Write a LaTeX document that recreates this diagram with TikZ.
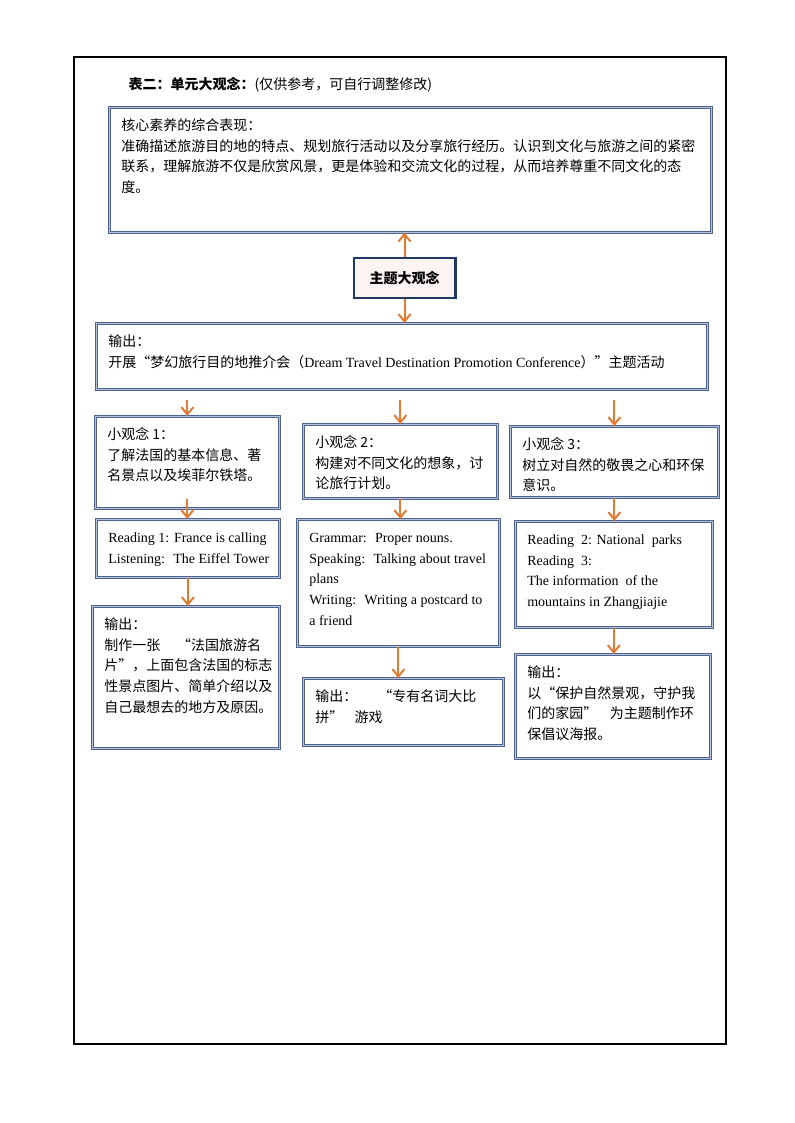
\documentclass[tikz,border=0pt]{standalone}
\usepackage{fontspec}
\setmainfont{Liberation Serif}
\newfontfamily\cjk{Noto Sans CJK SC}
\usetikzlibrary{arrows.meta}

\definecolor{frameblue}{RGB}{79,98,140}
\definecolor{bandblue}{RGB}{180,194,220}
\definecolor{navy}{RGB}{31,56,100}
\definecolor{blush}{RGB}{252,243,243}
\definecolor{arroworange}{RGB}{226,122,52}

\newdimen\pxu \pxu=0.75pt
\newcommand\bodyfont{\fontsize{10.5pt}{15.5pt}\selectfont}
% width, height (px), lines of the box
\newcommand\boxlines[3]{\parbox[t][#2\pxu][t]{#1\pxu}{\vspace{6.5pt}\hspace*{9pt}%
  \begin{tabular}[t]{@{}l@{}}#3\end{tabular}}}

\begin{document}
\begin{tikzpicture}[x=0.75pt, y=-0.75pt,
  box/.style = {draw=frameblue, double=bandblue, double distance=1.2pt,
    line width=0.5pt, inner sep=0pt, anchor=north west, font=\bodyfont\cjk},
  latin/.style = {box, font=\bodyfont},
  theme/.style = {draw=navy, fill=blush, line width=2pt, minimum width=76pt,
    minimum height=30pt, font=\bodyfont\cjk\bfseries},
  edge/.style = {-{Straight Barb[length=5.5pt, width=9pt]}, line width=1.5pt,
    draw=arroworange}]

  \useasboundingbox (0,0) rectangle (794,1123);
  \draw[line width=0.8pt] (74,57) rectangle (726,1044);

  \node[anchor=west, font=\bodyfont\cjk] (title) at (124,85)
    {{\bfseries 表二：单元大观念：}(仅供参考，可自行调整修改)};

  \node[box] (core) at (109,107) {\boxlines{602}{125}{核心素养的综合表现：\\
    准确描述旅游目的地的特点、规划旅行活动以及分享旅行经历。认识到文化与旅游之间的紧密\\
    联系，理解旅游不仅是欣赏风景，更是体验和交流文化的过程，从而培养尊重不同文化的态\\
    度。}};
  \node[theme] (theme) at (404.5,278) {主题大观念};
  \node[box] (act) at (96,323) {\boxlines{611}{66}{输出：\\
    开展“梦幻旅行目的地推介会（{\rmfamily Dream Travel Destination Promotion Conference}）”主题活动}};

  % column 1
  \node[box] (ideaA) at (95,416) {\boxlines{184}{92}{小观念 1：\\
    了解法国的基本信息、著\\ 名景点以及埃菲尔铁塔。}};
  \node[latin] (lessonA) at (96,519) {\boxlines{183}{58}{Reading 1: France is calling\\
    Listening: \ The Eiffel Tower}};
  \node[box] (taskA) at (92,606) {\boxlines{187}{142}{输出：\\
    制作一张\hspace{1.2em}“法国旅游名\\ 片”，上面包含法国的标志\\
    性景点图片、简单介绍以及\\ 自己最想去的地方及原因。}};

  % column 2
  \node[box] (ideaB) at (303,424) {\boxlines{194}{74}{小观念 2：\\
    构建对不同文化的想象，讨\\ 论旅行计划。}};
  \node[latin] (lessonB) at (297,519) {\boxlines{202}{127}{Grammar: \ Proper nouns.\\
    Speaking: \ Talking about travel\\ plans\\
    Writing: \ Writing a postcard to\\ a friend}};
  \node[box] (taskB) at (303,678) {\boxlines{200}{67}{输出：\hspace{1.5em}“专有名词大比\\
    拼”\hspace{0.8em}游戏}};

  % column 3
  \node[box] (ideaC) at (510,426) {\boxlines{208}{71}{小观念 3：\\
    树立对自然的敬畏之心和环保\\ 意识。}};
  \node[latin] (lessonC) at (515,521) {\boxlines{197}{106}{Reading \ 2: National \ parks\\
    Reading \ 3:\\ The information \ of the\\ mountains in Zhangjiajie}};
  \node[box] (taskC) at (515,654) {\boxlines{195}{104}{输出：\\
    以“保护自然景观，守护我\\ 们的家园”\hspace{0.9em}为主题制作环\\ 保倡议海报。}};

  \draw[edge] (theme) -- (theme |- core.south);
  \draw[edge] (theme) -- (theme |- act.north);
  \draw[edge, shorten <=8pt] (act.south -| ideaA.north) -- (ideaA.north);
  \draw[edge, shorten <=8pt] (act.south -| ideaB.north) -- (ideaB.north);
  \draw[edge, shorten <=8pt] (act.south -| ideaC.north) -- (ideaC.north);
  \draw[edge, shorten <=-7pt] (ideaA) -- (ideaA |- lessonA.north);
  \draw[edge] (ideaB) -- (ideaB |- lessonB.north);
  \draw[edge] (ideaC) -- (ideaC |- lessonC.north);
  \draw[edge] (lessonA) -- (lessonA |- taskA.north);
  \draw[edge] (lessonB) -- (lessonB |- taskB.north);
  \draw[edge] (lessonC) -- (lessonC |- taskC.north);
\end{tikzpicture}
\end{document}
